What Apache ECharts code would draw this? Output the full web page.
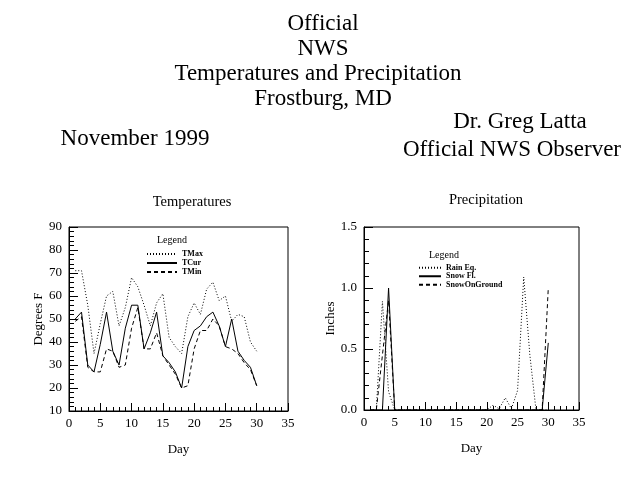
<!DOCTYPE html>
<html><head><meta charset="utf-8">
<script src="https://cdn.jsdelivr.net/npm/echarts@6/dist/echarts.min.js"></script>
<style>html,body{margin:0;padding:0;background:#fff}#c{width:640px;height:493px}</style>
</head><body><div id="c"></div><script>
const days = [1,2,3,4,5,6,7,8,9,10,11,12,13,14,15,16,17,18,19,20,21,22,23,24,25,26,27,28,29,30];
const tMax = [71,71,56,35,48,60,62,47,55,68,64,56,47,57,61,42,38,35,51,57,52,63,66,58,60,49,52,51,40,36];
const tCur = [50,53,30,27,39,53,36,30,46,56,56,37,44,53,34,31,27,20,38,45,47,51,53,47,38,50,36,32,29,21];
const tMin = [49,51,29,27,27,37,36,29,30,46,55,37,37,44,34,30,26,20,21,37,45,45,50,47,38,37,35,31,28,21];
const rainEq = [0,0,0.89,0.15,0,0,0,0,0,0,0,0,0,0,0,0,0,0,0,0,0.04,0.01,0.10,0.01,0.16,1.09,0.45,0,0,0];
const snowFall = [0,0,0,1.0,0,0,0,0,0,0,0,0,0,0,0,0,0,0,0,0,0,0,0,0,0,0,0,0,0,0.55];
const snowGround = [0,0,0.45,0.9,0,0,0,0,0,0,0,0,0,0,0,0,0,0,0,0,0,0,0,0,0,0,0,0,0,1.0];
const tempTicks = [10,20,30,40,50,60,70,80,90];
const precTicks = ['0.0','0.5','1.0','1.5'];

const F = '"Liberation Serif","DejaVu Serif",serif';
const chart = echarts.init(document.getElementById('c'));
const pairs = arr => days.map((d,i)=>[d,arr[i]]);
const DOT = [1,2], DASH = [4,3];

function xAx(g){
  return {type:'value', gridIndex:g, min:0, max:35, interval:5,
    axisLine:{show:true, lineStyle:{color:'#000', width:1}},
    axisTick:{show:true, inside:true, length:8, lineStyle:{color:'#000'}},
    minorTick:{show:true, splitNumber:5, length:4, lineStyle:{color:'#000'}},
    splitLine:{show:false}, minorSplitLine:{show:false},
    axisLabel:{color:'#000', fontFamily:F, fontSize:13, margin:6},
    name:'Day', nameLocation:'middle', nameGap:32,
    nameTextStyle:{color:'#000', fontFamily:F, fontSize:13}};
}
function yAx(g, o){
  return Object.assign({type:'value', gridIndex:g,
    axisLine:{show:true, lineStyle:{color:'#000', width:1}},
    axisTick:{show:true, inside:true, length:9, lineStyle:{color:'#000'}},
    minorTick:{show:true, splitNumber:5, length:5, lineStyle:{color:'#000'}},
    splitLine:{show:false}, minorSplitLine:{show:false},
    nameLocation:'middle', nameRotate:90,
    nameTextStyle:{color:'#000', fontFamily:F, fontSize:13}}, o);
}
function ln(name, arr, x, y, type){
  return {name, type:'line', xAxisIndex:x, yAxisIndex:y, data:pairs(arr), symbol:'none',
    lineStyle:{color:'#000', width:1, type}, itemStyle:{color:'#000'}, silent:true};
}
function txt(s, x, y, size, weight){
  return {type:'text', x, y, style:{text:s, fill:'#000', font:(weight||'normal')+' '+size+'px '+F, textAlign:'center', textVerticalAlign:'middle'}};
}

chart.setOption({
  animation:false,
  backgroundColor:'#fff',
  grid:[
    {left:69, top:227, width:219, height:184, show:true, borderColor:'#000', borderWidth:1, backgroundColor:'transparent', containLabel:false, outerBoundsMode:'none'},
    {left:364, top:227, width:215, height:183, show:true, borderColor:'#000', borderWidth:1, backgroundColor:'transparent', containLabel:false, outerBoundsMode:'none'}
  ],
  xAxis:[xAx(0), xAx(1)],
  yAxis:[
    yAx(0,{min:tempTicks[0], max:tempTicks[tempTicks.length-1], interval:10, name:'Degrees F', nameGap:23,
      axisLabel:{color:'#000', fontFamily:F, fontSize:13, margin:7}}),
    yAx(1,{min:0, max:1.5, interval:0.5, name:'Inches', nameGap:25,
      axisLabel:{color:'#000', fontFamily:F, fontSize:13, margin:7, formatter:v=>precTicks[Math.round(v/0.5)]}})
  ],
  legend:[
    {data:['TMax','TCur','TMin'], orient:'vertical', left:146, top:249.5, padding:0, itemWidth:30, itemHeight:9, itemGap:0,
      itemStyle:{opacity:0},
      textStyle:{color:'#000', fontFamily:F, fontSize:8, fontWeight:'bold', lineHeight:9}, selectedMode:false},
    {data:['Rain Eq.','Snow Fl.','SnowOnGround'], orient:'vertical', left:418, top:263.5, padding:0, itemWidth:22, itemHeight:8.5, itemGap:0,
      itemStyle:{opacity:0},
      textStyle:{color:'#000', fontFamily:F, fontSize:8, fontWeight:'bold', lineHeight:8.5}, selectedMode:false}
  ],
  series:[
    ln('TMax', tMax, 0, 0, DOT),
    ln('TCur', tCur, 0, 0, 'solid'),
    ln('TMin', tMin, 0, 0, DASH),
    ln('Rain Eq.', rainEq, 1, 1, DOT),
    ln('Snow Fl.', snowFall, 1, 1, 'solid'),
    ln('SnowOnGround', snowGround, 1, 1, DASH)
  ],
  graphic:[
    txt('Official', 323, 24, 23),
    txt('NWS', 323, 49, 23),
    txt('Temperatures and Precipitation', 318, 74, 23),
    txt('Frostburg, MD', 323, 99, 23),
    txt('November 1999', 135, 139, 23),
    txt('Dr. Greg Latta', 520, 122, 23),
    txt('Official NWS Observer', 512, 150, 23),
    txt('Temperatures', 192, 202, 14.5),
    txt('Precipitation', 486, 200, 14.5),
    txt('Legend', 172, 240, 10),
    txt('Legend', 444, 255, 10)
  ]
});
</script></body></html>
